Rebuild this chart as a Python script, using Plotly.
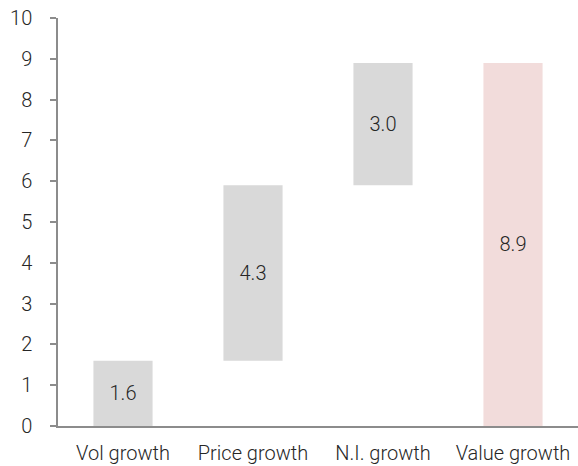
import plotly.graph_objects as go

categories = ["Vol growth", "Price growth", "N.I. growth", "Value growth"]
values = [1.6, 4.3, 3.0, 8.9]
is_total = [False, False, False, True]
colors = ["#d9d9d9", "#d9d9d9", "#d9d9d9", "#f2dcdb"]
y_ticks = list(range(0, 11))

bases = []
run = 0.0
for v, t in zip(values, is_total):
    if t:
        bases.append(0.0)
    else:
        bases.append(run)
        run += v

font = dict(family="Roboto", size=20, color="#262626", weight=300)

fig = go.Figure(go.Bar(
    x=categories, y=values, base=bases,
    marker=dict(color=colors, line=dict(width=0)),
    text=[f"{v:.1f}" for v in values],
    textposition="inside", insidetextanchor="middle",
    textfont=font, width=0.455, hoverinfo="skip",
))

fig.update_layout(
    width=578, height=466,
    margin=dict(l=58, r=0, t=18, b=40),
    paper_bgcolor="white", plot_bgcolor="white",
    font=font, showlegend=False,
    uniformtext=dict(mode=False),
)
fig.update_xaxes(showline=True, linecolor="#8c8c8c", linewidth=1.5,
                 ticks="", showgrid=False, tickfont=font, ticklabelstandoff=8)
fig.update_yaxes(range=[0, 10], tickvals=y_ticks, showline=True, linecolor="#8c8c8c",
                 linewidth=1.5, ticks="outside", ticklen=6, tickcolor="#8c8c8c",
                 tickwidth=1.5, showgrid=False, zeroline=False, tickfont=font,
                 ticklabelstandoff=14)

fig.write_html("out.html")
